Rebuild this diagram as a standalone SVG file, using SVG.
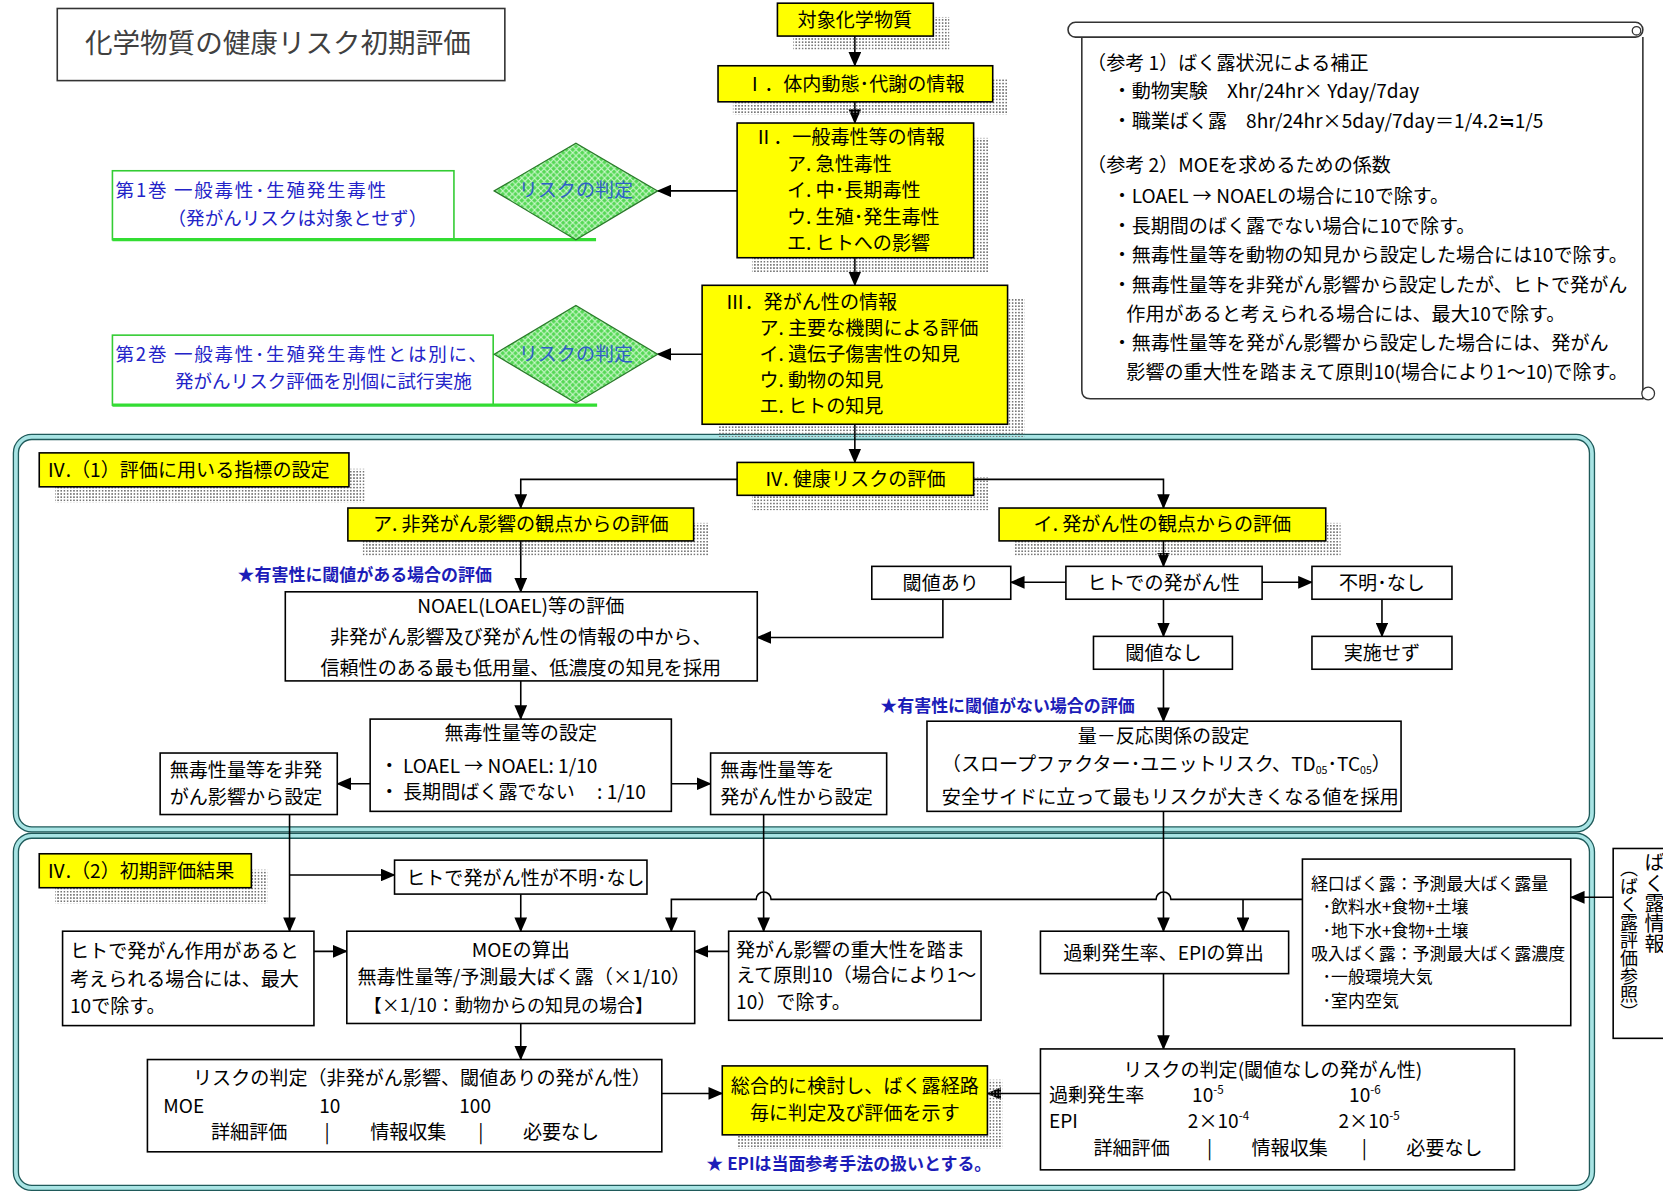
<svg xmlns="http://www.w3.org/2000/svg" width="1663" height="1192" viewBox="0 0 1663 1192">
<defs>
<style>
.t{font-family:"Noto Sans CJK JP","Noto Sans CJK SC",sans-serif;font-size:18px;fill:#000}
.c{text-anchor:middle}
.s{font-size:18px}
.e{font-size:16px}
.m{font-size:17px}
.bl{fill:#1c1cb8;font-weight:bold;font-size:16px}
.gb{fill:#2323c8;font-size:17.5px}
.dg{fill:#2f5fc8}
.box{fill:#fff;stroke:#000;stroke-width:1.5}
.yb{fill:#ffff00;stroke:#000;stroke-width:1.5}
.sh{fill:url(#dots)}
.gbox{fill:#fff;stroke:#33cc33;stroke-width:1.5}
.gl{stroke:#33dd33;stroke-width:3}
.conn{fill:none;stroke:#000;stroke-width:1.5}
.sec1{fill:none;stroke:#1f5a5a;stroke-width:6}
.sec2{fill:none;stroke:#a8e4e4;stroke-width:3.5}
</style>
<pattern id="dots" width="3" height="3" patternUnits="userSpaceOnUse"><rect width="1.5" height="1.5" fill="#777"/></pattern>
<pattern id="hatch" width="6" height="6" patternUnits="userSpaceOnUse"><rect width="6" height="6" fill="#55d855"/><path d="M0,0 L6,6 M6,0 L0,6" stroke="#d0f8d0" stroke-width="1"/></pattern>
<marker id="ah" markerUnits="userSpaceOnUse" markerWidth="14" markerHeight="12" refX="13" refY="6" orient="auto"><path d="M0,0 L14,6 L0,12 z" fill="#000"/></marker>
</defs>
<rect width="1663" height="1192" fill="#fff"/>
<g transform="scale(1.0606)">

<!-- sections -->
<g id="section1">
<rect x="15" y="412" width="1486" height="370" rx="15" class="sec1"/>
<rect x="15" y="412" width="1486" height="370" rx="15" class="sec2"/>
</g>
<g id="section2">
<rect x="15" y="788" width="1486" height="332" rx="15" class="sec1"/>
<rect x="15" y="788" width="1486" height="332" rx="15" class="sec2"/>
</g>

<!-- title -->
<g id="title">
<rect x="54" y="8" width="422" height="68" fill="#fff" stroke="#333" stroke-width="1.5"/>
<text x="262" y="50" class="t c" style="font-size:26px;fill:#404040">化学物質の健康リスク初期評価</text>
</g>

<!-- connectors -->
<g id="connectors">
<path class="conn" marker-end="url(#ah)" d="M806,34 V62"/>
<path class="conn" marker-end="url(#ah)" d="M806,96 V116"/>
<path class="conn" marker-end="url(#ah)" d="M806,243 V269"/>
<path class="conn" marker-end="url(#ah)" d="M806,400 V436"/>
<path class="conn" marker-end="url(#ah)" d="M695,180 H620"/>
<path class="conn" marker-end="url(#ah)" d="M662,334 H620"/>
<path class="conn" marker-end="url(#ah)" d="M695,452 H491 V479"/>
<path class="conn" marker-end="url(#ah)" d="M918,452 H1097 V479"/>
<path class="conn" marker-end="url(#ah)" d="M491,510 V558"/>
<path class="conn" marker-end="url(#ah)" d="M1097,510 V534"/>
<path class="conn" marker-end="url(#ah)" d="M1005,549 H953"/>
<path class="conn" marker-end="url(#ah)" d="M1190,549 H1237"/>
<path class="conn" marker-end="url(#ah)" d="M1303,565 V600"/>
<path class="conn" marker-end="url(#ah)" d="M1097,565 V600"/>
<path class="conn" marker-end="url(#ah)" d="M889,565 V601 H714"/>
<path class="conn" marker-end="url(#ah)" d="M1097,631 V680"/>
<path class="conn" marker-end="url(#ah)" d="M491,642 V678"/>
<path class="conn" marker-end="url(#ah)" d="M349,739 H318"/>
<path class="conn" marker-end="url(#ah)" d="M633,739 H670"/>
<path class="conn" marker-end="url(#ah)" d="M273,768 V878"/>
<path class="conn" marker-end="url(#ah)" d="M273,825 H372"/>
<path class="conn" marker-end="url(#ah)" d="M491,843 V878"/>
<path class="conn" marker-end="url(#ah)" d="M296,897 H327"/>
<path class="conn" marker-end="url(#ah)" d="M687,897 H655"/>
<path class="conn" marker-end="url(#ah)" d="M720,768 V878"/>
<path class="conn" marker-end="url(#ah)" d="M1097,765 V878"/>
<path class="conn" marker-end="url(#ah)" d="M1228,848 H1104 a7,7 0 0 0 -14,0 H727 a7,7 0 0 0 -14,0 H633 V878"/>
<path class="conn" marker-end="url(#ah)" d="M1172,848 V878"/>
<path class="conn" marker-end="url(#ah)" d="M1097,918 V989"/>
<path class="conn" marker-end="url(#ah)" d="M1521,846 H1481"/>
<path class="conn" marker-end="url(#ah)" d="M491,965 V999"/>
<path class="conn" marker-end="url(#ah)" d="M624,1031 H681"/>
<path class="conn" marker-end="url(#ah)" d="M981,1031 H931"/>
</g>

<!-- top chain -->
<g id="n-target">
<rect x="748" y="16" width="147" height="31" class="sh"/>
<rect x="733" y="3" width="147" height="31" class="yb"/>
<text x="806" y="25" class="t c">対象化学物質</text>
</g>
<g id="n-I">
<rect x="691" y="74" width="259" height="34" class="sh"/>
<rect x="677" y="62" width="259" height="34" class="yb"/>
<text x="806" y="86" class="t c">Ⅰ．体内動態･代謝の情報</text>
</g>
<g id="n-II">
<rect x="709" y="130" width="223" height="127" class="sh"/>
<rect x="695" y="116" width="223" height="127" class="yb"/>
<text x="711" y="136" class="t">Ⅱ．一般毒性等の情報</text>
<text x="742" y="161" class="t">ア. 急性毒性</text>
<text x="742" y="186" class="t">イ. 中･長期毒性</text>
<text x="742" y="211" class="t">ウ. 生殖･発生毒性</text>
<text x="742" y="236" class="t">エ. ヒトへの影響</text>
</g>
<g id="n-III">
<rect x="678" y="281" width="288" height="131" class="sh"/>
<rect x="662" y="269" width="288" height="131" class="yb"/>
<text x="684" y="291" class="t">Ⅲ．発がん性の情報</text>
<text x="716" y="316" class="t">ア. 主要な機関による評価</text>
<text x="716" y="340" class="t">イ. 遺伝子傷害性の知見</text>
<text x="716" y="365" class="t">ウ. 動物の知見</text>
<text x="716" y="389" class="t">エ. ヒトの知見</text>
</g>

<!-- diamonds and volume boxes -->
<g id="vol1">
<rect x="106" y="161" width="322" height="65" class="gbox"/>
<line x1="106" y1="226" x2="562" y2="226" class="gl"/>
<text x="109" y="186" class="t gb" textLength="255" lengthAdjust="spacing">第1巻 一般毒性･生殖発生毒性</text>
<text x="158" y="212" class="t gb">（発がんリスクは対象とせず）</text>
</g>
<g id="vol2">
<rect x="106" y="316" width="359" height="66" class="gbox"/>
<line x1="106" y1="382" x2="563" y2="382" class="gl"/>
<text x="109" y="340" class="t gb" textLength="350" lengthAdjust="spacing">第2巻 一般毒性･生殖発生毒性とは別に、</text>
<text x="165" y="366" class="t gb">発がんリスク評価を別個に試行実施</text>
</g>
<g id="dia1">
<polygon points="466,180 543,135 620,180 543,226" fill="url(#hatch)" stroke="#2a7a2a" stroke-width="1.2"/>
<text x="543" y="186" class="t c dg">リスクの判定</text>
</g>
<g id="dia2">
<polygon points="466,334 543,288 620,334 543,380" fill="url(#hatch)" stroke="#2a7a2a" stroke-width="1.2"/>
<text x="543" y="340" class="t c dg">リスクの判定</text>
</g>

<!-- scroll -->
<g id="ref-scroll">
<path d="M1020,35 V368 Q1020,376 1028,376 H1549 V35" fill="#fff" stroke="#333" stroke-width="1.5"/>
<rect x="1007" y="21" width="542" height="14" rx="7" fill="#fff" stroke="#333" stroke-width="1.5"/>
<circle cx="1543" cy="29" r="4" fill="#fff" stroke="#333" stroke-width="1.2"/>
<circle cx="1554" cy="371" r="6" fill="#fff" stroke="#333" stroke-width="1.2"/>
<text x="1025" y="66" class="t s">（参考 1）ばく露状況による補正</text>
<text x="1049" y="92" class="t s">・動物実験　Xhr/24hr× Yday/7day</text>
<text x="1049" y="121" class="t s">・職業ばく露　8hr/24hr×5day/7day＝1/4.2≒1/5</text>
<text x="1025" y="162" class="t s">（参考 2）MOEを求めるための係数</text>
<text x="1049" y="191" class="t s">・LOAEL → NOAELの場合に10で除す。</text>
<text x="1049" y="220" class="t s">・長期間のばく露でない場合に10で除す。</text>
<text x="1049" y="247" class="t s">・無毒性量等を動物の知見から設定した場合には10で除す。</text>
<text x="1049" y="275" class="t s">・無毒性量等を非発がん影響から設定したが、ヒトで発がん</text>
<text x="1062" y="303" class="t s">作用があると考えられる場合には、最大10で除す。</text>
<text x="1049" y="330" class="t s">・無毒性量等を発がん影響から設定した場合には、発がん</text>
<text x="1062" y="357" class="t s">影響の重大性を踏まえて原則10(場合により1～10)で除す。</text>
</g>

<!-- section 1 nodes -->
<g id="lbl-IV1">
<rect x="52" y="442" width="292" height="32" class="sh"/>
<rect x="37" y="427" width="292" height="32" class="yb"/>
<text x="44" y="450" class="t">Ⅳ.（1）評価に用いる指標の設定</text>
</g>
<g id="n-IV">
<rect x="709" y="450" width="223" height="31" class="sh"/>
<rect x="695" y="436" width="223" height="31" class="yb"/>
<text x="806" y="458" class="t c">Ⅳ. 健康リスクの評価</text>
</g>
<g id="n-a">
<rect x="342" y="493" width="326" height="31" class="sh"/>
<rect x="328" y="479" width="326" height="31" class="yb"/>
<text x="491" y="501" class="t c">ア. 非発がん影響の観点からの評価</text>
</g>
<g id="n-i">
<rect x="956" y="493" width="308" height="31" class="sh"/>
<rect x="942" y="479" width="308" height="31" class="yb"/>
<text x="1096" y="501" class="t c">イ. 発がん性の観点からの評価</text>
</g>
<g id="note-threshold">
<text x="224" y="548" class="t bl">★有害性に閾値がある場合の評価</text>
</g>
<g id="note-nothreshold">
<text x="830" y="671" class="t bl">★有害性に閾値がない場合の評価</text>
</g>
<g id="n-noael">
<rect x="269" y="558" width="445" height="84" class="box"/>
<text x="491" y="578" class="t c">NOAEL(LOAEL)等の評価</text>
<text x="491" y="607" class="t c">非発がん影響及び発がん性の情報の中から、</text>
<text x="491" y="636" class="t c">信頼性のある最も低用量、低濃度の知見を採用</text>
</g>
<g id="n-mudoku">
<rect x="349" y="678" width="284" height="87" class="box"/>
<text x="491" y="698" class="t c">無毒性量等の設定</text>
<text x="358" y="729" class="t">・ LOAEL → NOAEL: 1/10</text>
<text x="358" y="753" class="t">・ 長期間ばく露でない</text>
<text x="563" y="753" class="t">: 1/10</text>
</g>
<g id="n-nonca-set">
<rect x="151" y="710" width="167" height="58" class="box"/>
<text x="160" y="733" class="t">無毒性量等を非発</text>
<text x="160" y="758" class="t">がん影響から設定</text>
</g>
<g id="n-ca-set">
<rect x="670" y="710" width="166" height="58" class="box"/>
<text x="679" y="733" class="t">無毒性量等を</text>
<text x="679" y="758" class="t">発がん性から設定</text>
</g>
<g id="n-human">
<rect x="1005" y="534" width="185" height="31" class="box"/>
<text x="1097" y="556" class="t c">ヒトでの発がん性</text>
</g>
<g id="n-thr-yes">
<rect x="822" y="534" width="131" height="31" class="box"/>
<text x="887" y="556" class="t c">閾値あり</text>
</g>
<g id="n-unknown">
<rect x="1237" y="534" width="132" height="31" class="box"/>
<text x="1303" y="556" class="t c">不明･なし</text>
</g>
<g id="n-thr-no">
<rect x="1031" y="600" width="131" height="31" class="box"/>
<text x="1097" y="622" class="t c">閾値なし</text>
</g>
<g id="n-none">
<rect x="1237" y="600" width="132" height="31" class="box"/>
<text x="1303" y="622" class="t c">実施せず</text>
</g>
<g id="n-dose">
<rect x="874" y="680" width="447" height="85" class="box"/>
<text x="1097" y="701" class="t c">量－反応関係の設定</text>
<text x="888" y="727" class="t">（スロープファクター･ユニットリスク、TD<tspan font-size="10" baseline-shift="-3">05</tspan>･TC<tspan font-size="10" baseline-shift="-3">05</tspan>）</text>
<text x="888" y="758" class="t">安全サイドに立って最もリスクが大きくなる値を採用</text>
</g>

<!-- section 2 nodes -->
<g id="lbl-IV2">
<rect x="52" y="820" width="200" height="32" class="sh"/>
<rect x="37" y="805" width="200" height="32" class="yb"/>
<text x="44" y="828" class="t">Ⅳ.（2）初期評価結果</text>
</g>
<g id="n-human-unknown">
<rect x="372" y="811" width="238" height="32" class="box"/>
<text x="383" y="834" class="t">ヒトで発がん性が不明･なし</text>
</g>
<g id="n-human-ca">
<rect x="59" y="878" width="237" height="89" class="box"/>
<text x="66" y="903" class="t">ヒトで発がん作用があると</text>
<text x="66" y="930" class="t">考えられる場合には、最大</text>
<text x="66" y="955" class="t">10で除す。</text>
</g>
<g id="n-moe">
<rect x="327" y="878" width="328" height="87" class="box"/>
<text x="491" y="902" class="t c">MOEの算出</text>
<text x="337" y="928" class="t">無毒性量等/予測最大ばく露（×1/10）</text>
<text x="343" y="954" class="t m">【×1/10：動物からの知見の場合】</text>
</g>
<g id="n-severity">
<rect x="687" y="878" width="238" height="84" class="box"/>
<text x="694" y="902" class="t">発がん影響の重大性を踏ま</text>
<text x="694" y="926" class="t">えて原則10（場合により1～</text>
<text x="694" y="951" class="t">10）で除す。</text>
</g>
<g id="n-excess">
<rect x="981" y="878" width="234" height="40" class="box"/>
<text x="1097" y="905" class="t c">過剰発生率、EPIの算出</text>
</g>
<g id="n-exposure">
<rect x="1228" y="810" width="253" height="157" class="box"/>
<text x="1236" y="839" class="t e">経口ばく露：予測最大ばく露量</text>
<text x="1247" y="861" class="t e">･飲料水+食物+土壌</text>
<text x="1247" y="883" class="t e">･地下水+食物+土壌</text>
<text x="1236" y="905" class="t e">吸入ばく露：予測最大ばく露濃度</text>
<text x="1247" y="927" class="t e">･一般環境大気</text>
<text x="1247" y="949" class="t e">･室内空気</text>
</g>
<g id="n-exposure-info">
<rect x="1521" y="800" width="80" height="179" class="box"/>
<text x="1560" y="804" class="t" style="writing-mode:vertical-rl;font-size:19px">ばく露情報</text>
<text x="1536" y="810" class="t" style="writing-mode:vertical-rl;font-size:17px">（ばく露評価参照）</text>
</g>
<g id="n-risk-left">
<rect x="139" y="999" width="485" height="87" class="box"/>
<text x="182" y="1023" class="t">リスクの判定（非発がん影響、閾値ありの発がん性）</text>
<text x="154" y="1049" class="t">MOE</text>
<text x="301" y="1049" class="t">10</text>
<text x="433" y="1049" class="t">100</text>
<text x="199" y="1074" class="t">詳細評価</text>
<text x="306" y="1074" class="t">|</text>
<text x="349" y="1074" class="t">情報収集</text>
<text x="451" y="1074" class="t">|</text>
<text x="493" y="1074" class="t">必要なし</text>
</g>
<g id="n-overall">
<rect x="695" y="1018" width="250" height="65" class="sh"/>
<rect x="681" y="1005" width="250" height="65" class="yb"/>
<text x="806" y="1031" class="t c">総合的に検討し、ばく露経路</text>
<text x="806" y="1056" class="t c">毎に判定及び評価を示す</text>
</g>
<g id="note-epi">
<text x="666" y="1103" class="t bl">★ EPIは当面参考手法の扱いとする。</text>
</g>
<g id="n-risk-right">
<rect x="981" y="989" width="447" height="114" class="box"/>
<text x="1059" y="1015" class="t">リスクの判定(閾値なしの発がん性)</text>
<text x="989" y="1039" class="t">過剰発生率</text>
<text x="1124" y="1039" class="t">10<tspan font-size="11" baseline-shift="super">-5</tspan></text>
<text x="1272" y="1039" class="t">10<tspan font-size="11" baseline-shift="super">-6</tspan></text>
<text x="989" y="1064" class="t">EPI</text>
<text x="1120" y="1064" class="t">2×10<tspan font-size="11" baseline-shift="super">-4</tspan></text>
<text x="1262" y="1064" class="t">2×10<tspan font-size="11" baseline-shift="super">-5</tspan></text>
<text x="1031" y="1089" class="t">詳細評価</text>
<text x="1138" y="1089" class="t">|</text>
<text x="1180" y="1089" class="t">情報収集</text>
<text x="1284" y="1089" class="t">|</text>
<text x="1326" y="1089" class="t">必要なし</text>
</g>
</g>
</svg>
